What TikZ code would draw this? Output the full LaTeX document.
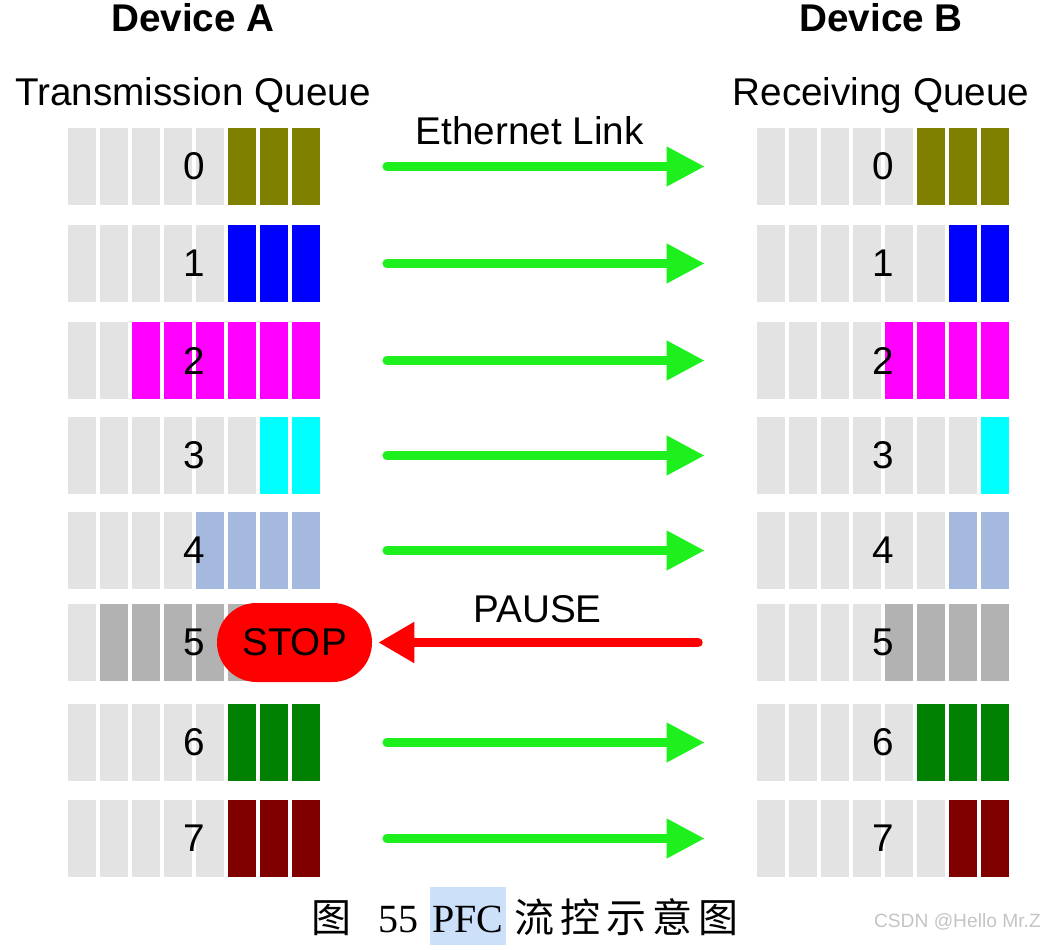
\documentclass[tikz,border=0pt]{standalone}
\usepackage{fontspec}
\setmainfont{Liberation Sans}
\newfontfamily\capserif{Liberation Serif}
\newfontfamily\capcjk[LetterSpace=15]{Noto Sans CJK SC}
\usetikzlibrary{arrows.meta,shapes.misc}

\definecolor{cellgrey}{HTML}{E3E3E3}
\definecolor{qolive}{HTML}{808000}
\definecolor{qblue}{HTML}{0000FF}
\definecolor{qmagenta}{HTML}{FF00FF}
\definecolor{qcyan}{HTML}{00FFFF}
\definecolor{qsky}{HTML}{A4B9DD}
\definecolor{qgrey}{HTML}{B2B2B2}
\definecolor{qgreen}{HTML}{008000}
\definecolor{qmaroon}{HTML}{800000}
\definecolor{linkgreen}{HTML}{1EF01E}
\definecolor{pausered}{HTML}{FF0000}
\definecolor{pfchl}{HTML}{CCE0FA}
\definecolor{csdngrey}{HTML}{C4C4C4}

\begin{document}
\begin{tikzpicture}[x=0.75pt,y=-0.75pt,
        every node/.style={text=black,font=\fontsize{29}{34}\selectfont},
        qnum/.style={minimum width=189pt,minimum height=57.75pt,inner sep=0},
        link/.style={linkgreen,line width=6.75pt,line cap=round,-{Triangle[length=28.5pt,width=28pt]},
                shorten <=50pt,shorten >=39pt},
        pause/.style={pausered,line width=7pt,line cap=round,-{Triangle[length=27pt,width=29pt]},
                shorten <=44pt,shorten >=4.5pt}]
        \useasboundingbox (0,0) rectangle (1048,949);
        % headers
        \node[anchor=base,font=\fontsize{29}{34}\selectfont\bfseries] (devA) at (193,32) {Device A};
        \node[anchor=base,font=\fontsize{29}{34}\selectfont\bfseries] (devB) at (881,32) {Device B};
        \node[anchor=base] (txq) at (193,105) {Transmission Queue};
        \node[anchor=base] (rxq) at (881,105) {Receiving Queue};
        % queues: row / top / filled cells A / filled cells B / colour
        \foreach \r/\y/\na/\nb/\col in {0/128/3/3/qolive,1/225/3/2/qblue,2/322/6/4/qmagenta,3/417/2/1/qcyan,
                4/512/4/2/qsky,5/604/7/4/qgrey,6/704/3/3/qgreen,7/800/3/2/qmaroon}{
                \foreach \i in {0,...,7}{
                        \ifnum\i<\numexpr8-\na\relax\def\fa{cellgrey}\else\def\fa{\col}\fi
                        \ifnum\i<\numexpr8-\nb\relax\def\fb{cellgrey}\else\def\fb{\col}\fi
                        \fill[\fa] (68+32*\i,\y) rectangle ++(28,77);
                        \fill[\fb] (757+32*\i,\y) rectangle ++(28,77);
                }
                \node[qnum] (qA\r) at (194,\y+38.5) {\r};
                \node[qnum] (qB\r) at (883,\y+38.5) {\r};
        }
        \node[rounded rectangle,fill=pausered,minimum width=116.25pt,minimum height=59.25pt,inner sep=0] (stop) at (294.5,642.5) {STOP};
        % links
        \draw[link] (qA0.east) -- node[pos=0.48,above=13pt,inner sep=0] {Ethernet Link} (qB0.west);
        \foreach \r in {1,2,3,4,6,7}
                \draw[link] (qA\r.east) -- (qB\r.west);
        \draw[pause] (qB5.west) -- node[pos=0.57,above=11.5pt,inner sep=0] {PAUSE} (stop.east);
        % caption
        \node[anchor=base,font=\capcjk\fontsize{30}{36}\selectfont] (capfig) at (331,932) {图};
        \node[anchor=base,font=\capserif\fontsize{30}{36}\selectfont] (capnum) at (398,932) {55};
        \node[anchor=base,fill=pfchl,inner xsep=1.5pt,inner ysep=0,text height=33.75pt,text depth=9.75pt,
                font=\capserif\fontsize{30}{36}\selectfont] (cappfc) at (468,932) {PFC};
        \node[anchor=base west,inner sep=0,font=\capcjk\fontsize{30}{36}\selectfont] (capdesc) at (514,932) {流控示意图};
        \node[anchor=base east,inner sep=0,text=csdngrey,font=\fontsize{14.4}{17}\selectfont] (csdn) at (1041,927) {CSDN @Hello Mr.Z};
\end{tikzpicture}
\end{document}
